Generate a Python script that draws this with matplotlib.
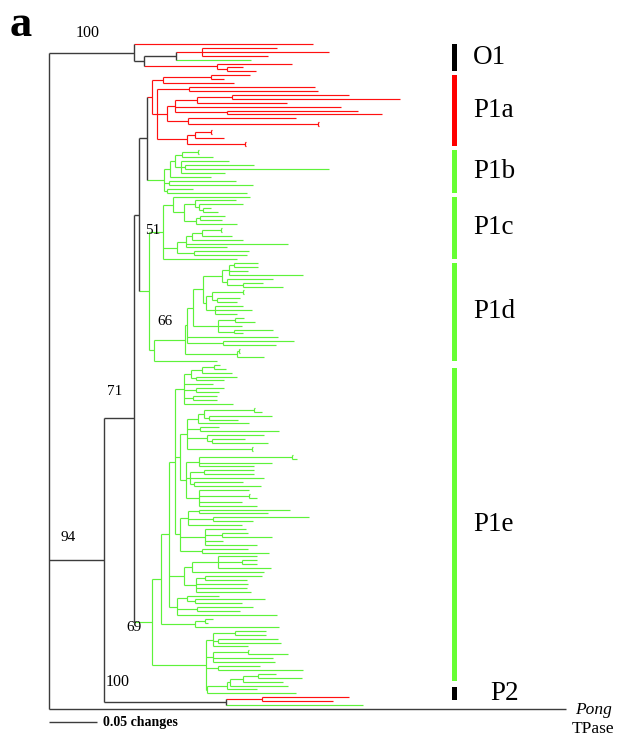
import matplotlib
matplotlib.use("Agg")
import matplotlib.pyplot as plt
from matplotlib.collections import LineCollection
from matplotlib.patches import Rectangle

# ---------------- data ----------------
# Branch lengths are in units of 1/960 changes (scale bar: 48 units = 0.05 changes)
BACKBONE_NWK = "(O1,((((P1a,P1b):8,(P1c,P1d):10):5,P1e)N71:30,P2)N94:55,Pong:517)"

O1_NWK = "(:179,(((:75,:127,:66):26,:75):32,(:75,(:16,:29):10):73):10):85"
P1A_NWK = ("(((:39,:13):48,:71):11,((:126,:129):32,((((:117,:168):35,:90):22,:166,"
           "(:131,:155):52):8,(:108,(:1,:1):130):21):10,"
           "(((:1,:1):16,:29):8,(:1,:1):58):30):5):5")
P1B_NWK = ("(((((:1,:1):16,:31):7,(:48,(:69,:144):4,:44):6):5,:41):6,"
           "(:67,:84):5,(:26,:80):3):17")
P1C_NWK = ("((:77,((:41,(:44,(:8,:15):4):4):11,((:25,:22):4,:41):12):11):10,"
           "(((((:1,:1):19,:30):10,:51):6,:102,:41):9,(:55,:53):17):14,:74):14")
P1D_NWK = ("((((((((:24,:24):5,:19,:74):7,(:46,(:20,:40):16):5):19,"
           "(((:1,:1):31,(:23,:20):5):6,(:28,:37,:22):9):3):10,"
           "((:9,:20):17,:24,(:39,:9):16):25):6,"
           ":91,(:71,:53):36):2,"
           "((:1,:1):2,:27):52):31,"
           ":63):5")
P1E_E1 = "((((:6,:12):12,:30):11,(:41,:28):5):7,:29,(:28,:23):12,(:24,:24):9,:49):9"
P1E_E2A = ("((((:1,:8):50,(:63,:29):5):6,:51):11,(:19,:79):13,"
           "(:57,(:33,:56):5):20,(:1,:1):65):7")
P1E_E2B = ("(((:1,:5):93,:73,:55):13,((:50,:50):14,:74,(:49,:67):4):4,"
           "(:50,(:1,:8):50,:43,:58):13):6")
P1E_E3A = "(((:91,:69):11,(:96,:40):25,:54):8,(:41,(:26,:50):17,:18,:52):25,(:46,:67):22):5"
P1E_E3B = "(((:39,(:15,:15):24,:53):26,:72):8,((:57,:42):9,:52,:51,:55):12):15"
P1E_N177 = "((:32,(:70,:47):8):10,(:56,:43):20,:100):8"
P1E_N195 = "((:8,:3):10,:84):34"
P1E_N206 = ("(((:31,:31):22,(:60,:63):5,:35):7,((:1,:40):35,:60,:62):7,(:42,:85):12,"
            "(((((:18,:44):15,:40):13,:58):3,:30):20,:89):1):54")
P1E_TEMPLATE = "(((({E1},({E2a},{E2b}):5,{E3a}):6,{E3b},{N177}):8,{N195}):9,{N206}):18"
P2_NWK = "((:87,:71):36,:137):122"

CLADE_NAMES = ["O1", "P1a", "P1b", "P1c", "P1d", "P1e", "P2"]
LEAF_COLOR_CODES = {"O1": "RRRRGRRR", "P1a": "R", "P1b": "G", "P1c": "G",
                    "P1d": "G", "P1e": "G", "P2": "RRG", "Pong": "K"}
BAR_COLOR_CODES = {"O1": "K", "P1a": "R", "P1b": "G", "P1c": "G",
                   "P1d": "G", "P1e": "G", "P2": "K"}
SUPPORT = {"O1": "100", "N94": "94", "N71": "71", "P1e": "69",
           "P2": "100", "P1c": "51", "P1d": "66"}
SCALE_LEN = 48
SCALE_LABEL = "0.05 changes"
PANEL = "a"
OUTGROUP = ("Pong", "TPase")

# ---------------- parsing ----------------
P1E_NWK = P1E_TEMPLATE.format(E1=P1E_E1, E2a=P1E_E2A, E2b=P1E_E2B, E3a=P1E_E3A,
                              E3b=P1E_E3B, N177=P1E_N177, N195=P1E_N195, N206=P1E_N206)
CLADE_NWK = {"O1": O1_NWK, "P1a": P1A_NWK, "P1b": P1B_NWK, "P1c": P1C_NWK,
             "P1d": P1D_NWK, "P1e": P1E_NWK, "P2": P2_NWK}


def parse(s):
    s = s.replace(" ", "")
    pos = 0

    def node():
        nonlocal pos
        n = {"children": [], "len": 0.0, "name": ""}
        if s[pos] == "(":
            pos += 1
            n["children"].append(node())
            while s[pos] == ",":
                pos += 1
                n["children"].append(node())
            assert s[pos] == ")"
            pos += 1
        st = pos
        while pos < len(s) and s[pos] not in ":,();":
            pos += 1
        n["name"] = s[st:pos]
        if pos < len(s) and s[pos] == ":":
            pos += 1
            st = pos
            while pos < len(s) and s[pos] not in ",();":
                pos += 1
            n["len"] = float(s[st:pos])
        return n

    return node()


root = parse(BACKBONE_NWK)


def graft(n):
    for i, ch in enumerate(n["children"]):
        if not ch["children"] and ch["name"] in CLADE_NWK:
            sub = parse(CLADE_NWK[ch["name"]])
            sub["name"] = ch["name"]
            n["children"][i] = sub
        else:
            graft(ch)


graft(root)

# layout
leaf_counter = [0]
clade_leaves = {}


def layout(n, px, clade):
    n["x"] = px + n["len"]
    n["px"] = px
    if n["name"] in LEAF_COLOR_CODES:
        clade = n["name"]
    n["clade"] = clade
    if not n["children"]:
        n["y"] = leaf_counter[0]
        leaf_counter[0] += 1
        clade_leaves.setdefault(clade, []).append(n)
    else:
        for ch in n["children"]:
            layout(ch, n["x"], clade)
        n["y"] = (n["children"][0]["y"] + n["children"][-1]["y"]) / 2.0


layout(root, 0.0, None)
for cl, lv in clade_leaves.items():
    code = LEAF_COLOR_CODES[cl]
    for i, lf in enumerate(lv):
        lf["c"] = code[0] if len(code) == 1 else code[i]


def colorize(n):
    if n["children"]:
        cs = {colorize(ch) for ch in n["children"]}
        n["c"] = cs.pop() if len(cs) == 1 else "K"
    return n["c"]


colorize(root)

COL = {"R": "#ff1010", "G": "#5ef23a", "K": "#3c3c3c"}
BARCOL = {"R": "#ff0000", "G": "#66ff33", "K": "#000000"}

segs = {"R": [], "G": [], "K": []}
named = {}


def collect(n, is_root=False):
    if n["name"]:
        named[n["name"]] = n
    if not is_root:
        segs[n["c"]].append([(n["px"], n["y"]), (n["x"], n["y"])])
    if n["children"]:
        segs[n["c"]].append([(n["x"], n["children"][0]["y"]), (n["x"], n["children"][-1]["y"])])
        for ch in n["children"]:
            collect(ch)


collect(root, True)

# ---------------- drawing ----------------
NLEAF = leaf_counter[0]
SP = (709 - 44) / (NLEAF - 1)          # pixels per leaf row
fig = plt.figure(figsize=(6.2, 7.38), dpi=100)
ax = fig.add_axes([0, 0, 1, 1])
ax.set_xlim(-49, 620 - 49)
ax.set_ylim((738 - 44) / SP, -44 / SP)
ax.axis("off")


def P(px, py):
    return (px - 49, (py - 44) / SP)


for k in ["G", "R", "K"]:
    lw = 1.0 if k == "K" else 0.85
    ax.add_collection(LineCollection(segs[k], colors=COL[k], linewidths=lw,
                                     capstyle="butt"))

SERIF = ["Liberation Serif", "DejaVu Serif"]

# support values
SUPPORT_OFFSETS = {"O1": (39, 20), "N94": (19, 23), "N71": (11, 27), "P1e": (0, -6),
                   "P2": (14, 20), "P1c": (4, 1), "P1d": (16, 29)}
for name, txt in SUPPORT.items():
    n = named[name]
    ax.annotate(txt, xy=(n["px"], n["y"]), xytext=SUPPORT_OFFSETS[name],
                textcoords="offset pixels", ha="center", va="center",
                fontsize=11.5 if txt == "100" else 11, family=SERIF)

# clade bars and labels (bar trims in leaf rows, purely visual)
BAR_TRIM = {"P1e": (0.8, -3.2), "P2": (-2.6, -1.2)}
for cl in CLADE_NAMES:
    ys = [lf["y"] for lf in clade_leaves[cl]]
    t0, t1 = BAR_TRIM.get(cl, (0.0, 0.0))
    y0, y1 = min(ys) + t0, max(ys) + t1
    x0 = P(452, 0)[0]
    ax.add_patch(Rectangle((x0, y0), 5, y1 - y0, color=BARCOL[BAR_COLOR_CODES[cl]], lw=0))
    lx = P(490 if cl == "P2" else 473, 0)[0]
    ax.text(lx, (y0 + y1) / 2, cl, ha="left", va="center", fontsize=19.5, family=SERIF)

# outgroup label
pong = clade_leaves["Pong"][0]
ax.annotate(OUTGROUP[0], xy=(pong["x"], pong["y"]), xytext=(9, -1),
            textcoords="offset pixels", ha="left", va="center", fontsize=12.5,
            style="italic", family=SERIF)
ax.annotate(OUTGROUP[1], xy=(pong["x"], pong["y"]), xytext=(6, -20),
            textcoords="offset pixels", ha="left", va="center", fontsize=12.5,
            family=SERIF)

# scale bar
sx, sy = P(49, 722)
ax.plot([sx, sx + SCALE_LEN], [sy, sy], color="#3c3c3c", lw=1.0, solid_capstyle="butt")
ax.text(sx + SCALE_LEN + 6, sy, SCALE_LABEL, ha="left", va="center", fontsize=10,
        fontweight="bold", family=SERIF)

# panel letter
px_, py_ = P(10, 36)
ax.text(px_, py_, PANEL, ha="left", va="baseline", fontsize=32, fontweight="bold",
        family=SERIF)

fig.savefig("out.png", dpi=100)
